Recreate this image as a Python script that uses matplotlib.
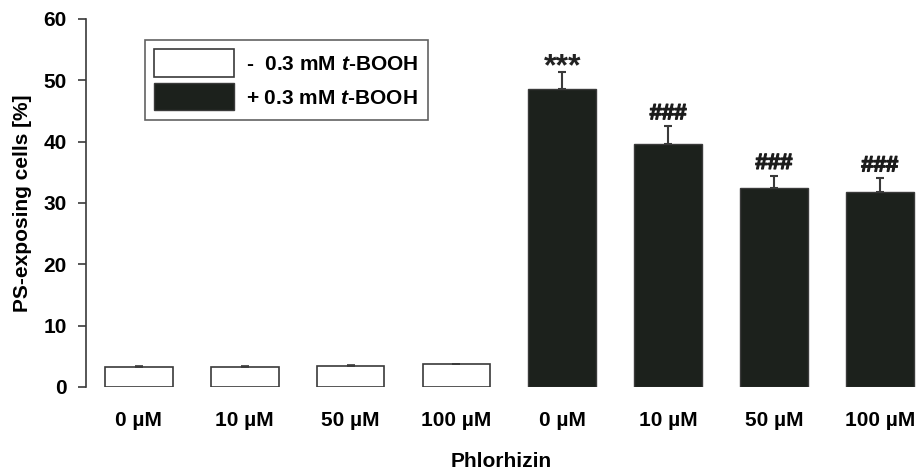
import numpy as np
import matplotlib.pyplot as plt
import matplotlib.patheffects as pe

plt.rcParams['font.family'] = ['Liberation Sans', 'DejaVu Sans']
plt.rcParams['font.weight'] = 'bold'
plt.rcParams['mathtext.fontset'] = 'custom'
plt.rcParams['mathtext.bfit'] = 'Liberation Sans:italic:bold'

labels = ["0 µM", "10 µM", "50 µM", "100 µM", "0 µM", "10 µM", "50 µM", "100 µM"]
minus_vals = [3.3, 3.3, 3.5, 3.7]
minus_err = [0.2, 0.2, 0.1, 0.0]
plus_vals = [48.6, 39.6, 32.5, 31.8]
plus_err = [2.8, 2.9, 1.9, 2.2]
marks = ["***", "###", "###", "###"]

fig = plt.figure(figsize=(9.17, 4.70), dpi=100)
ax = fig.add_axes([0.0938, 0.1766, 0.906, 0.783])

x = np.arange(8)
w = 0.64
edge = "#3a3a3a"
dark = "#1c211c"
fs = 15

ax.bar(x[:4], minus_vals, w, color="white", edgecolor=edge, linewidth=1.2,
       yerr=[np.zeros(4), minus_err], capsize=3,
       error_kw=dict(ecolor=edge, elinewidth=1.2, capthick=1.2),
       label="-  0.3 mM $\\mathbfit{t}$-BOOH")
ax.bar(x[4:], plus_vals, w, color=dark, edgecolor=edge, linewidth=1.0,
       yerr=[np.zeros(4), plus_err], capsize=3,
       error_kw=dict(ecolor=edge, elinewidth=1.5, capthick=1.5),
       label="+ 0.3 mM $\\mathbfit{t}$-BOOH")

# significance marks above the error bars
thick = [pe.Stroke(linewidth=0.9, foreground="#1c1c1c"), pe.Normal()]
for xi, v, e, m in zip(x[4:], plus_vals, plus_err, marks):
    if m == "***":
        ax.text(xi, v + e - 0.6, m, ha="center", va="baseline", fontsize=23,
                fontweight="bold", color="#222222")
    else:
        ax.text(xi, v + e + 1.15, m, ha="center", va="baseline", fontsize=16,
                fontweight="bold", color="#1c1c1c", path_effects=thick)

ax.set_xlim(-0.5, 7.35)
ax.set_ylim(0, 60)
ax.set_yticks(range(0, 61, 10))
ax.set_xticks(x)
ax.set_xticklabels(labels)
ax.tick_params(axis="x", length=0, pad=17, labelsize=fs)
ax.tick_params(axis="y", direction="out", length=6, width=1.2, color=edge,
               labelsize=fs, pad=8)
for s in ["top", "right", "bottom"]:
    ax.spines[s].set_visible(False)
ax.spines["left"].set_color(edge)
ax.spines["left"].set_linewidth(1.2)

ax.set_ylabel("PS-exposing cells [%]", fontsize=fs, fontweight="bold", labelpad=8)
ax.set_xlabel("Phlorhizin", fontsize=fs, fontweight="bold", labelpad=16)

leg = ax.legend(loc="upper left", bbox_to_anchor=(0.071, 0.943), fontsize=fs,
                frameon=True, fancybox=False, edgecolor=edge, handlelength=3.8,
                handleheight=1.65, handletextpad=0.6, borderpad=0.45,
                labelspacing=0.3, borderaxespad=0)
leg.get_frame().set_linewidth(1.2)

fig.savefig("out.png", dpi=100)
